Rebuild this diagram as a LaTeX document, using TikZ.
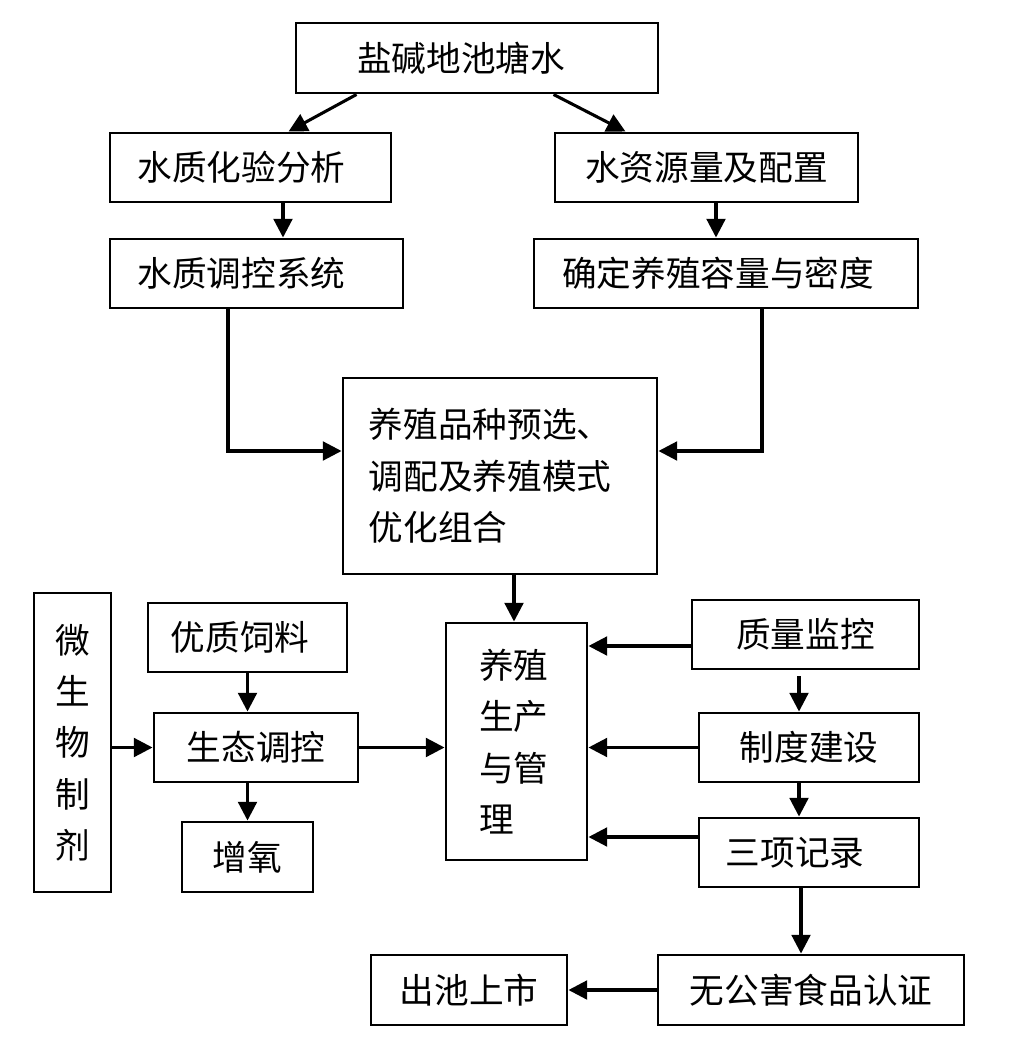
\documentclass[tikz,border=0pt]{standalone}
\usepackage{fontspec}
\newfontfamily\cjk{Noto Sans CJK SC}
\usetikzlibrary{arrows.meta,calc}
\begin{document}
\begin{tikzpicture}[x=0.75pt,y=-0.75pt,
  box/.style={draw, line width=2.2pt, inner sep=0pt, font=\cjk\fontsize{26}{38.5}\selectfont},
  wh/.style 2 args={minimum width=#1*0.75pt, minimum height=#2*0.75pt},
  arr/.style={line width=2.3pt, -{Triangle[length=14pt,width=14pt]}}]
\fill[white] (0,0) rectangle (1029,1044);
\useasboundingbox (0,0) rectangle (1029,1044);

\node[box,wh={362}{70}] (top) at (477,58) {盐碱地池塘水\hspace*{24pt}};
\node[box,wh={281}{69}] (wqa) at (250.5,167.5) {水质化验分析\hspace*{13.5pt}};
\node[box,wh={293}{69}] (wqc) at (256.5,273.5) {水质调控系统\hspace*{22.5pt}};
\node[box,wh={303}{69}] (wra) at (706.5,167.5) {水资源量及配置};
\node[box,wh={384}{69}] (cap) at (726,273.5) {确定养殖容量与密度\hspace*{12pt}};
\node[box,wh={314}{196},align=left] (sel) at (500,476) {养殖品种预选、\\调配及养殖模式\hspace*{15pt}\mbox{}\\优化组合};
\node[box,wh={77}{299},align=center] (mic) at (72.5,742.5) {微\\生\\物\\制\\剂};
\node[box,wh={199}{69}] (feed) at (247.5,637.5) {优质饲料\hspace*{11pt}};
\node[box,wh={204}{69}] (eco) at (256,747.5) {生态调控};
\node[box,wh={131}{70}] (oxy) at (247.5,857) {增氧};
\node[box,wh={141}{237},align=left] (prod) at (516.5,741.5) {养殖\hspace*{4pt}\mbox{}\\生产\\与管\\理};
\node[box,wh={227}{69}] (qc) at (805.5,634.5) {质量监控};
\node[box,wh={220}{69}] (sys) at (809,747.5) {制度建设};
\node[box,wh={220}{69}] (rec) at (809,852.5) {三项记录\hspace*{21pt}};
\node[box,wh={196}{70}] (mkt) at (469,990) {出池上市};
\node[box,wh={306}{70}] (cert) at (811,990) {无公害食品认证};

\coordinate (k1) at (228,451);
\coordinate (k2) at (762,451);
\coordinate (x1) at (283,0);
\coordinate (x2) at (716,0);
\coordinate (x3) at (514,0);
\coordinate (x4) at (799,0);
\coordinate (x5) at (801,0);
\coordinate (y1) at (0,646);
\coordinate (y2) at (0,837);

\draw[arr] ($(top.south west)+(62,0)$) -- ($(wqa.north west)+(180,0)$);
\draw[arr] ($(top.south west)+(259,0)$) -- ($(wra.north west)+(72,0)$);
\draw[arr] (wqa.south -| x1) -- (wqc.north -| x1);
\draw[arr] (wra.south -| x2) -- (cap.north -| x2);
\draw[arr] (wqc.south -| k1) |- (sel.west |- k1);
\draw[arr] (cap.south -| k2) |- (sel.east |- k2);
\draw[arr] (sel.south -| x3) -- (prod.north -| x3);
\draw[arr] (feed.south) -- (feed.south |- eco.north);
\draw[arr] (eco.south -| feed.south) -- (oxy.north -| feed.south);
\draw[arr] (mic.east |- eco.west) -- (eco.west);
\draw[arr] (eco.east) -- (prod.west |- eco.east);
\draw[arr] (qc.west |- y1) -- (prod.east |- y1);
\draw[arr] (sys.west) -- (prod.east |- sys.west);
\draw[arr] (rec.west |- y2) -- (prod.east |- y2);
\draw[arr, shorten <=4.5pt] (qc.south -| x4) -- (sys.north -| x4);
\draw[arr] (sys.south -| x4) -- (rec.north -| x4);
\draw[arr] (rec.south -| x5) -- (cert.north -| x5);
\draw[arr] (cert.west) -- (mkt.east);
\end{tikzpicture}
\end{document}
